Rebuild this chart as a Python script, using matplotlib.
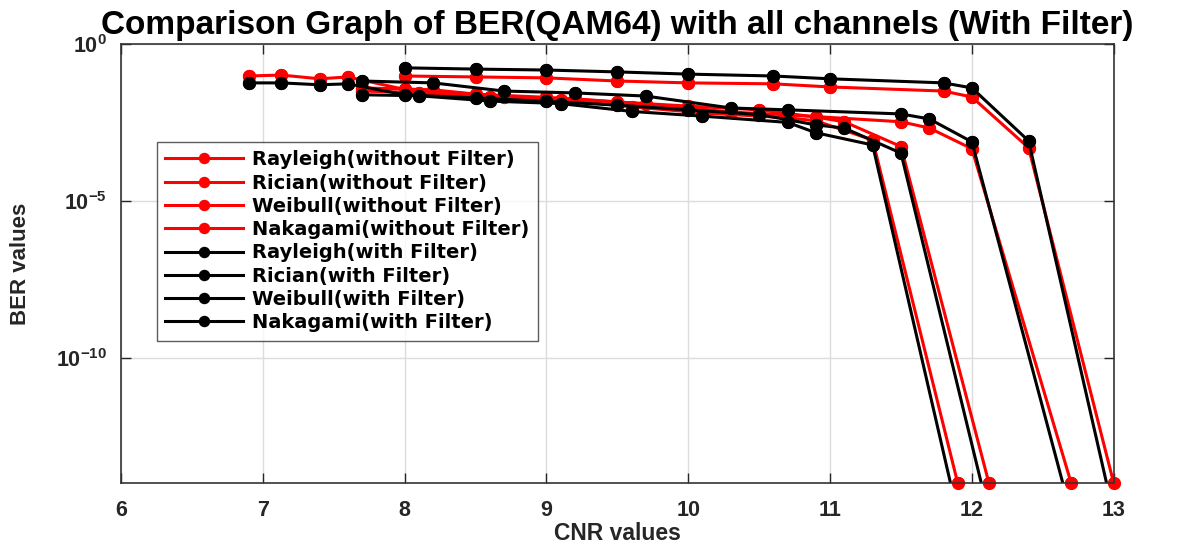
import numpy as np
import matplotlib
matplotlib.use('Agg')
import matplotlib.pyplot as plt

plt.rcParams['font.family'] = ['Liberation Sans', 'DejaVu Sans']

# CNR values and log10(BER) per channel, without / with filter
cnr_rayleigh = [8.0, 8.5, 9.0, 9.5, 10.0, 10.6, 11.0, 11.8, 12.0, 12.4, 13.0]
ber_rayleigh_nf = [-1.02, -1.05, -1.08, -1.18, -1.24, -1.27, -1.37, -1.50, -1.69, -3.31, -14.0]
ber_rayleigh_f = [-0.76, -0.80, -0.83, -0.89, -0.96, -1.02, -1.11, -1.24, -1.40, -3.09, -15.0]

cnr_rician = [7.7, 8.2, 8.7, 9.2, 9.7, 10.3, 10.7, 11.5, 11.7, 12.0, 12.7]
ber_rician_nf = [-1.40, -1.46, -1.69, -1.75, -1.91, -2.17, -2.26, -2.48, -2.68, -3.34, -14.0]
ber_rician_f = [-1.18, -1.24, -1.50, -1.56, -1.66, -2.04, -2.10, -2.23, -2.39, -3.12, -15.0]

cnr_weibull = [6.9, 7.13, 7.4, 7.6, 8.0, 8.5, 9.0, 9.5, 10.0, 10.5, 10.9, 11.1, 11.5, 12.12]
ber_weibull_nf = [-1.02, -0.99, -1.11, -1.05, -1.45, -1.60, -1.70, -1.85, -1.98, -2.10, -2.33, -2.48, -3.27, -14.0]
ber_weibull_f = [-1.24, -1.24, -1.30, -1.27, -1.62, -1.72, -1.83, -1.95, -2.10, -2.25, -2.58, -2.68, -3.48, -15.0]

cnr_nakagami = [7.7, 8.1, 8.6, 9.1, 9.6, 10.1, 10.7, 10.9, 11.3, 11.9]
ber_nakagami_nf = [-1.50, -1.55, -1.70, -1.78, -2.00, -2.20, -2.35, -2.45, -3.06, -14.0]
ber_nakagami_f = [-1.62, -1.65, -1.82, -1.90, -2.15, -2.30, -2.50, -2.83, -3.22, -15.0]

series = [
    (cnr_rayleigh, ber_rayleigh_nf, 'red', 'Rayleigh(without Filter)'),
    (cnr_rician, ber_rician_nf, 'red', 'Rician(without Filter)'),
    (cnr_weibull, ber_weibull_nf, 'red', 'Weibull(without Filter)'),
    (cnr_nakagami, ber_nakagami_nf, 'red', 'Nakagami(without Filter)'),
    (cnr_rayleigh, ber_rayleigh_f, 'black', 'Rayleigh(with Filter)'),
    (cnr_rician, ber_rician_f, 'black', 'Rician(with Filter)'),
    (cnr_weibull, ber_weibull_f, 'black', 'Weibull(with Filter)'),
    (cnr_nakagami, ber_nakagami_f, 'black', 'Nakagami(with Filter)'),
]

ymin, ymax = 1e-14, 1.0

fig = plt.figure(figsize=(11.81, 5.46), dpi=100)
ax = fig.add_axes([0.1025, 0.1154, 0.8405, 0.8040])

for x, logy, color, label in series:
    x = np.array(x)
    y = 10.0 ** np.array(logy)
    ax.plot(x, y, '-o', color=color, lw=2.2, ms=8.5, label=label)
    # keep markers sitting on the axis limits whole
    inside = (y >= ymin * 0.999) & (y <= ymax)
    ax.plot(x[inside], y[inside], 'o', color=color, ms=8.5, clip_on=False)

ax.set_yscale('log')
ax.set_xlim(6, 13)
ax.set_ylim(ymin, ymax)
ax.set_yticks([1e-10, 1e-5, 1e0])
ax.minorticks_off()
ax.set_xticks(range(6, 14))
ax.grid(True, color='#dcdcdc', lw=1.0)
ax.set_axisbelow(True)
ax.tick_params(direction='in', top=True, right=True, length=7, width=1.0,
               labelsize=15.5, colors='#262626')
ax.tick_params(axis='x', pad=12)
ax.tick_params(axis='y', pad=10)
for t in ax.get_xticklabels() + ax.get_yticklabels():
    t.set_fontweight('bold')
for sp in ax.spines.values():
    sp.set_linewidth(1.2)
    sp.set_color('#333333')

ax.set_xlabel('CNR values', fontsize=16.5, fontweight='bold', labelpad=1, color='#262626')
ax.set_ylabel('BER values', fontsize=16, fontweight='bold', labelpad=18, color='#262626')
ax.set_title('Comparison Graph of BER(QAM64) with all channels (With Filter)',
             fontsize=24, fontweight='bold', pad=7)

leg = ax.legend(loc='upper left', bbox_to_anchor=(0.026, 0.80),
                prop={'family': 'DejaVu Sans', 'weight': 'bold', 'size': 14},
                frameon=True, fancybox=False, edgecolor='#333333', borderpad=0.45,
                labelspacing=0.22, handlelength=4.0, handletextpad=0.45, markerscale=0.85)
leg.get_frame().set_linewidth(1.0)

fig.savefig('out.png', dpi=100)
